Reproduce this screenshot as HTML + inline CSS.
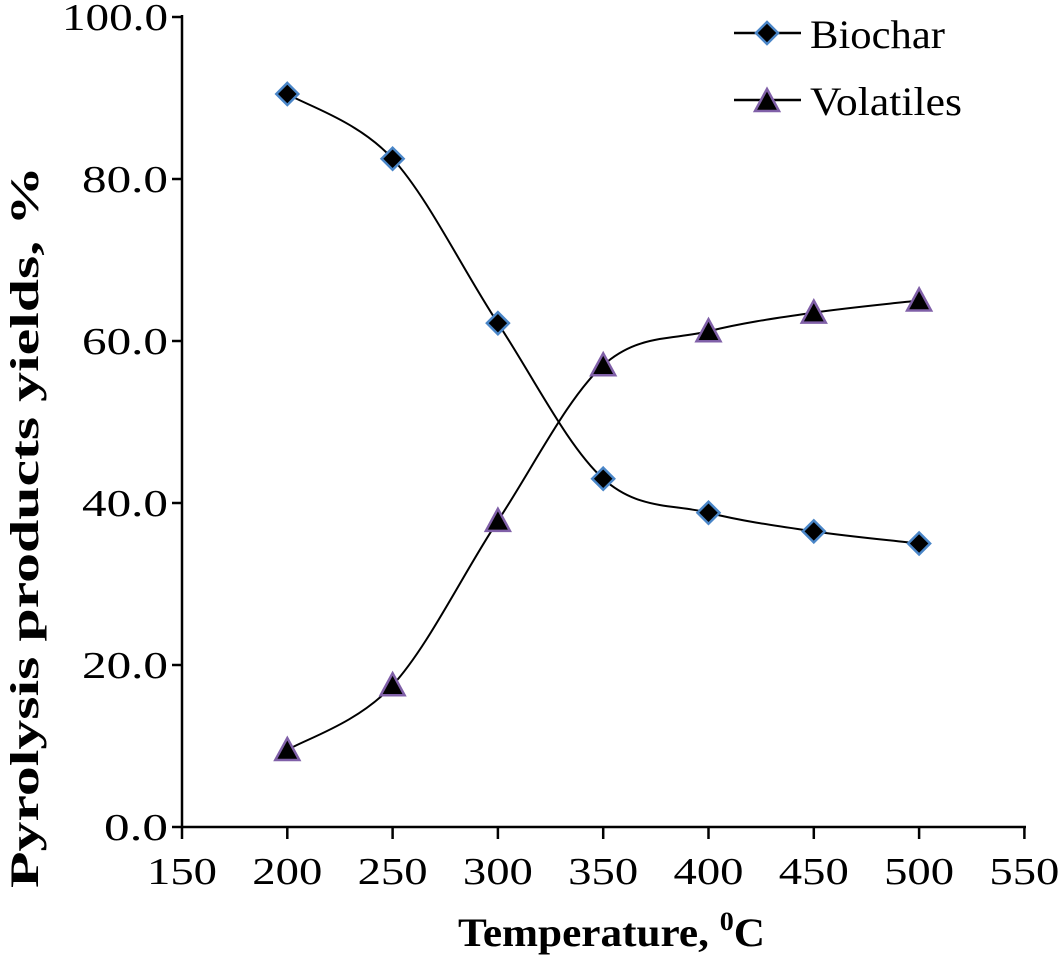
<!DOCTYPE html><html><head><style>body{margin:0;background:#fff}svg{display:block}</style></head><body>
<svg id="s" width="1064" height="957" xmlns="http://www.w3.org/2000/svg" font-family="Liberation Serif, serif">
<g stroke="#000" stroke-width="2.5" fill="none">
<line x1="182" y1="15" x2="182" y2="828"/><line x1="181" y1="827" x2="1026" y2="827"/>
</g>
<g id="ticks" stroke="#000" stroke-width="2.5"></g>
<g id="lbl" font-size="38" fill="#000"></g>
<g id="cur" stroke="#000" stroke-width="2" fill="none"></g>
<g id="mk"></g>
<text x="458" y="946" font-size="40" font-weight="bold" textLength="307" lengthAdjust="spacingAndGlyphs">Temperature, <tspan font-size="26" dy="-16">0</tspan><tspan dy="16">C</tspan></text>
<text transform="translate(38,527) rotate(-90)" text-anchor="middle" font-size="40" font-weight="bold" textLength="722" lengthAdjust="spacingAndGlyphs">Pyrolysis products yields, %</text>
<line x1="734" y1="33" x2="801" y2="33" stroke="#000" stroke-width="2.5"/>
<polygon points="767,22 778,33 767,44 756,33" fill="#000" stroke="#4a86c8" stroke-width="2.5"/>
<text x="810" y="48" font-size="40" textLength="135" lengthAdjust="spacingAndGlyphs">Biochar</text>
<line x1="734" y1="100" x2="801" y2="100" stroke="#000" stroke-width="2.5"/>
<polygon points="767,89 779,111 755,111" fill="#000" stroke="#8060a8" stroke-width="2.5"/>
<text x="810" y="115" font-size="40" textLength="152" lengthAdjust="spacingAndGlyphs">Volatiles</text>
</svg>
<script>
const X=t=>182+(t-150)*105.3/50, Y=v=>827-v*8.1;
const ns="http://www.w3.org/2000/svg";
function el(p,n,a,txt){const e=document.createElementNS(ns,n);for(const k in a)e.setAttribute(k,a[k]);if(txt)e.textContent=txt;document.getElementById(p).appendChild(e);}
for(let i=0;i<=5;i++){const y=Y(i*20);const s=(i*20).toFixed(1);const w=s.length==5?106:(s.length==4?86:64);el('ticks','line',{x1:172,y1:y,x2:182,y2:y});el('lbl','text',{x:168-w,y:y+13,textLength:w,lengthAdjust:'spacingAndGlyphs'},s);}
for(let t=150;t<=550;t+=50){const x=X(t);el('ticks','line',{x1:x,y1:827,x2:x,y2:839});el('lbl','text',{x:x-35,y:884,textLength:70,lengthAdjust:'spacingAndGlyphs'},t);}
const T=[200,250,300,350,400,450,500];
const B=[90.5,82.5,62.2,43,38.8,36.5,35],V=[9.5,17.5,37.8,57,61.2,63.5,65];
function path(D){const p=T.map((t,i)=>[X(t),Y(D[i])]);let d=`M${p[0]}`;for(let i=0;i<p.length-1;i++){const a=p[Math.max(i-1,0)],b=p[i],c=p[i+1],e=p[Math.min(i+2,p.length-1)];const k=1/6;d+=` C${b[0]+(c[0]-a[0])*k},${b[1]+(c[1]-a[1])*k} ${c[0]-(e[0]-b[0])*k},${c[1]-(e[1]-b[1])*k} ${c[0]},${c[1]}`;}el('cur','path',{d});return p;}
const pb=path(B),pv=path(V);
pb.forEach(([x,y])=>el('mk','polygon',{points:`${x},${y-11} ${x+11},${y} ${x},${y+11} ${x-11},${y}`,fill:'#000',stroke:'#4a86c8','stroke-width':2.5}));
pv.forEach(([x,y])=>el('mk','polygon',{points:`${x},${y-12} ${x+12},${y+10} ${x-12},${y+10}`,fill:'#000',stroke:'#8060a8','stroke-width':2.5}));
</script>
</body></html>
